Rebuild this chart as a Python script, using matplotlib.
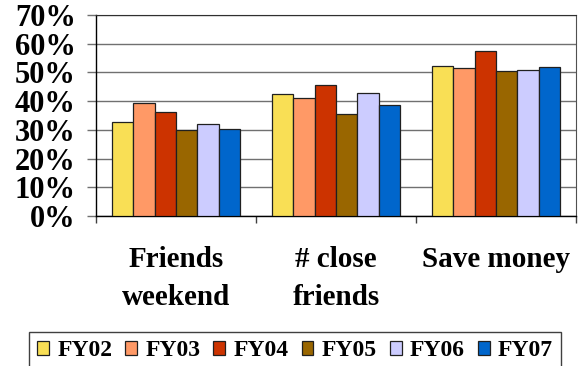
import numpy as np
import matplotlib
matplotlib.use('Agg')
import matplotlib.pyplot as plt
from matplotlib.ticker import FixedLocator, PercentFormatter

plt.rcParams['font.family'] = ['Liberation Serif', 'DejaVu Serif']
plt.rcParams['font.weight'] = 'bold'

categories = ['Friends\nweekend', '# close\nfriends', 'Save money']
years = ['FY02', 'FY03', 'FY04', 'FY05', 'FY06', 'FY07']
fy02 = [32.6, 42.5, 52.3]
fy03 = [39.4, 41.2, 51.6]
fy04 = [36.1, 45.6, 57.6]
fy05 = [29.8, 35.5, 50.4]
fy06 = [32.0, 42.8, 50.9]
fy07 = [30.4, 38.5, 51.9]
series = [fy02, fy03, fy04, fy05, fy06, fy07]
colors = ['#F9DF55', '#FF9966', '#CC3300', '#996600', '#CCCCFF', '#0066CC']

fig = plt.figure(figsize=(5.8, 3.66), dpi=100)
ax = fig.add_axes([0.1655, 0.41, 0.8275, 0.549])

x = np.arange(len(categories))
w = 0.8 / len(series)
for i, (vals, c, lab) in enumerate(zip(series, colors, years)):
    ax.bar(x + (i - 2.5) * w, vals, w, color=c, edgecolor='#202020',
           linewidth=0.9, label=lab, zorder=3)

ax.set_xlim(-0.5, 2.5)
ax.set_ylim(0, 70)
ax.set_yticks(np.arange(0, 71, 10))
ax.yaxis.set_major_formatter(PercentFormatter(decimals=0))
ax.grid(axis='y', color='#707070', linewidth=1.0, zorder=0)
ax.tick_params(axis='y', length=6.5, color='#707070', width=1.0, pad=8, labelsize=22)

ax.set_xticks(x)
ax.set_xticklabels(categories, fontsize=21, linespacing=1.5)
ax.xaxis.set_minor_locator(FixedLocator([-0.5, 0.5, 1.5, 2.5]))
ax.tick_params(axis='x', which='major', length=0, pad=22)
ax.tick_params(axis='x', which='minor', length=5, width=1.0, color='#404040')

for s in ['left', 'bottom']:
    ax.spines[s].set_color('black')
    ax.spines[s].set_linewidth(1.0)
ax.spines['right'].set_color('#505050')
ax.spines['top'].set_color('#303030')

leg = fig.legend(loc='upper left', bbox_to_anchor=(0.05, 0.093), ncol=6,
                 fontsize=17, handlelength=0.5, handleheight=0.5,
                 handletextpad=0.35, columnspacing=0.55, borderpad=0.35,
                 borderaxespad=0, fancybox=False, framealpha=1,
                 edgecolor='#404040')
leg.get_frame().set_linewidth(1.0)

fig.savefig('out.png', dpi=100)
